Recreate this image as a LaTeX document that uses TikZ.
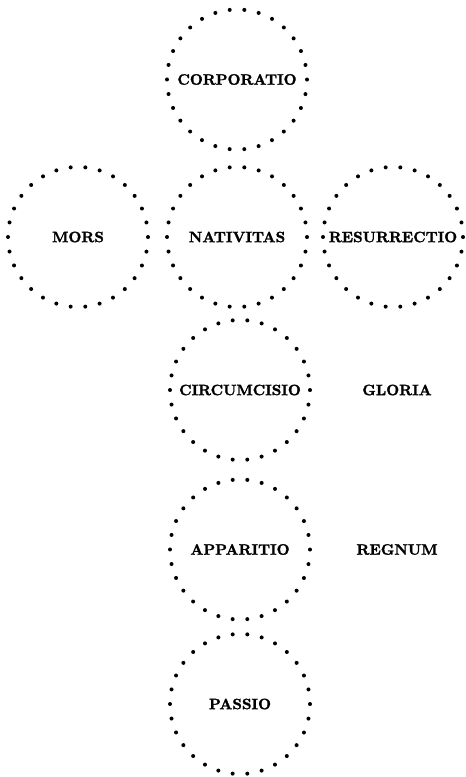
\documentclass[tikz,border=0pt]{standalone}
\usepackage{fontspec}
\newfontfamily\heavyfont{lmroman10-bold.otf}[FakeBold=1.6]
\usetikzlibrary{positioning}

\tikzset{
  % dotted ring round each name
  ring/.style={circle, minimum size=140pt, inner sep=0pt,
    draw=black, line width=4pt, line cap=round,
    dash pattern=on 0pt off 14.66pt,
    font=\fontsize{15}{15}\selectfont\heavyfont},
  % free standing words
  word/.style={font=\fontsize{15}{15}\selectfont\heavyfont}
}

\begin{document}
\begin{tikzpicture}[node distance=12pt]
  % page frame
  \fill[white] (0,0) rectangle (466pt,-777pt);
  \useasboundingbox (0,0) rectangle (466pt,-777pt);

  % 1. the middle row
  \node[ring] (nativitas) at (237pt,-237pt) {NATIVITAS};
  \node[ring, left=of nativitas, xshift=-3pt] (mors) {MORS};
  \node[ring, right=of nativitas] (resurrectio) {RESURRECTIO};

  % 2. upward and downward
  \node[ring, above=of nativitas, yshift=1.5pt] (corporatio) {CORPORATIO};
  \node[ring, below=of nativitas, xshift=3pt, yshift=3pt] (circumcisio) {CIRCUMCISIO};
  \node[ring, below=of circumcisio, yshift=-3.5pt] (apparitio) {APPARITIO};
  \node[ring, below=of apparitio, yshift=1.5pt] (passio) {PASSIO};

  % 3. words without ring
  \node[word, xshift=4pt] (gloria) at (circumcisio -| resurrectio) {GLORIA};
  \node[word, xshift=4pt] (regnum) at (apparitio -| resurrectio) {REGNUM};
\end{tikzpicture}
\end{document}
